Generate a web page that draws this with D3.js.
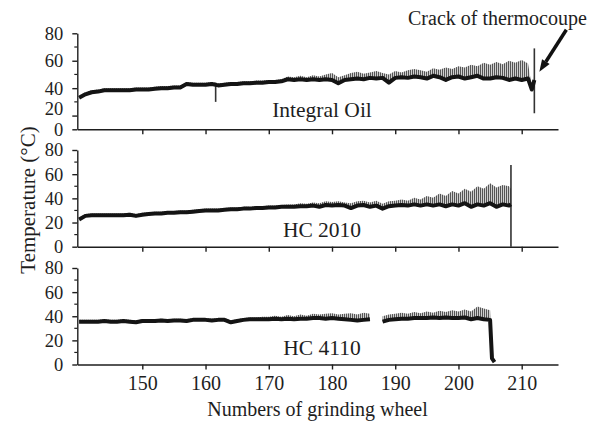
<!DOCTYPE html>
<html>
<head>
<meta charset="utf-8">
<script src="https://cdn.jsdelivr.net/npm/d3@7"></script>
<style>
  body { margin: 0; background: #fff; }
  svg { display: block; }
</style>
</head>
<body>
<svg id="chart"></svg>
<script>
// wheel numbers, one reading per wheel
const wheels = [140, 141, 142, 143, 144, 145, 146, 147, 148, 149,
                150, 151, 152, 153, 154, 155, 156, 157, 158, 159,
                160, 161, 162, 163, 164, 165, 166, 167, 168, 169,
                170, 171, 172, 173, 174, 175, 176, 177, 178, 179,
                180, 181, 182, 183, 184, 185, 186, 187, 188, 189,
                190, 191, 192, 193, 194, 195, 196, 197, 198, 199,
                200, 201, 202, 203, 204, 205, 206, 207, 208, 209,
                210, 211, 212];

const xTicks = [150, 160, 170, 180, 190, 200, 210];
const yTickLabels = ['0', '20', '40', '60', '80'];

// Integral Oil: main trace and the top of the spikes
const oilTemp = [33, 35.5, 37, 37.5, 38.5, 38.5, 38.5, 38.5, 38.5, 39,
                 39, 39, 39.5, 40, 40, 40.5, 40.5, 43, 42.5, 42.5,
                 42.5, 43, 42, 42.5, 43, 43, 43.5, 43.5, 44, 44,
                 44.5, 44.5, 45, 46.5, 46, 46.5, 46, 46.5, 46, 46.5,
                 46, 43.5, 46, 46.5, 47, 46.5, 47.5, 47, 47.5, 44,
                 47.5, 48, 47.5, 48.5, 48, 47, 49, 48, 46, 48,
                 48.5, 47, 48, 49, 47, 47, 48, 47.5, 46, 47,
                 46, 47];
const oilPeak = [34.5, 37, 38.5, 39, 40, 40, 40, 40, 40, 40.5,
                 40.5, 40.5, 41, 41.5, 41.5, 42, 42, 44.5, 44, 44,
                 44, 44.5, 43.5, 44, 44.5, 44.5, 45, 45, 45.5, 45.5,
                 46, 46, 46.5, 48.5, 48, 49, 48, 49.5, 48.5, 50,
                 51, 48, 49.5, 51, 52, 50.5, 51.5, 52.5, 51, 50,
                 52.5, 51.5, 53, 54, 53, 52, 54.5, 53.5, 55, 54,
                 56, 55, 57, 56, 58.5, 57, 59, 57.5, 60, 58.5,
                 60.5, 58];
const oilTail = [[211.6, 39, 41], [212.0, 46, 50]];
const oilSpikes = [[161.6, 30, 44], [212.0, 21.7, 69]];

// HC 2010
const hc2010Temp = [22.5, 25.5, 26, 26, 26, 26, 26, 26, 26.5, 25.5,
                    26.5, 27, 27.5, 27.5, 28, 28, 28.5, 28.5, 29, 29.5,
                    30, 30, 30, 30.5, 31, 31, 31.5, 31.5, 32, 32,
                    32.5, 32.5, 33, 33, 33, 33.5, 33.5, 34, 33, 34.5,
                    34, 34.5, 34, 32, 34, 34.5, 33, 34, 31.5, 33.5,
                    34, 34.5, 34, 35, 34, 35, 34, 35, 33.5, 35,
                    34, 36, 33, 35, 34, 36, 33, 35, 34];
const hc2010Peak = [24, 27, 27.5, 27.5, 27.5, 27.5, 27.5, 27.5, 28, 27,
                    28, 28.5, 29, 29, 29.5, 29.5, 30, 30, 30.5, 31,
                    31.5, 31.5, 31.5, 32, 32.5, 32.5, 33, 33, 33.5, 33.5,
                    34, 34, 34.5, 35, 35, 36, 35.5, 36.5, 36, 37.5,
                    37, 37.5, 36.5, 36, 37.5, 38, 36.5, 38, 35.5, 37.5,
                    38, 39, 38, 40.5, 39, 42, 40.5, 44, 42, 46,
                    44, 48, 45.5, 50, 48, 52.5, 49, 51, 50];
const hc2010Tail = [[208.3, 35, 48]];
const hc2010Spikes = [[208.3, 0, 67.5]];

// HC 4110 (null = no reading)
const hc4110Temp = [35.5, 35.5, 35.5, 35.5, 36, 35.5, 35.5, 36, 35.5, 35,
                    36, 36, 36, 36.5, 36, 36.5, 36.5, 36, 37, 37,
                    37, 36.5, 37, 37, 35, 36, 37, 37.5, 37.5, 37.5,
                    37.5, 38, 37.5, 38, 37.5, 38, 38, 38.5, 38.5, 38,
                    38.5, 38, 37.5, 37, 36.5, 37, 37.5, null, 35.5, 37,
                    37.5, 38, 38, 38.5, 38.5, 38.5, 39, 38.5, 39, 38.5,
                    38.5, 39, 37.5, 38.5, 37.5, 37];
const hc4110Peak = [37, 37, 37, 37, 37.5, 37, 37, 37.5, 37, 36.5,
                    37.5, 37.5, 37.5, 38, 37.5, 38, 38, 37.5, 38.5, 38.5,
                    38.5, 38, 38.5, 38.5, 36.5, 37.5, 38.5, 39, 39, 39.5,
                    39.5, 40.5, 39.5, 41, 40, 41.5, 40.5, 42, 41.5, 42,
                    42.5, 41.5, 42, 42.5, 41.5, 43, 42, null, 40, 41.5,
                    42, 43, 42, 43.5, 42.5, 44, 43, 44.5, 43.5, 45,
                    44, 45.5, 44, 48, 46.5, 45];
const hc4110Tail = [[205.3, 5, 5], [205.7, 2, 2]];
const hc4110Spikes = [];

const font = "'Liberation Serif', 'Times New Roman', serif";
const ink = '#1e1e1e';

class TempPanel {

    constructor( config, series ) {
        this.config = {
            parent: config.parent,
            left: 77.3,
            right: 558,
            top: config.top,
            bottom: config.bottom,
            yDomain: config.yDomain,
            yTicks: config.yTicks,
            yMinor: config.yMinor,
            labelShift: config.labelShift || [0, 0, 0, 0, 0],
            title: config.title,
            titleY: config.titleY,
            showXLabels: config.showXLabels || false
        };
        this.series = series;
        this.init();
    }

    init() {
        let self = this;

        self.chart = self.config.parent.append('g');

        self.xscale = d3.scaleLinear()
            .domain([139.72, 215.74])
            .range([self.config.left, self.config.right]);

        self.yscale = d3.scaleLinear()
            .domain(self.config.yDomain)
            .range([self.config.bottom, self.config.top]);

        self.area = d3.area()
            .defined(d => d.t !== null)
            .x(d => self.xscale(d.w))
            .y0(d => self.yscale(d.t))
            .y1(d => self.yscale(d.p));

        self.line = d3.line()
            .defined(d => d.t !== null)
            .x(d => self.xscale(d.w))
            .y(d => self.yscale(d.t));

        self.render();
    }

    render() {
        let self = this;
        const s = self.series;

        const pts = s.temp.map((t, i) => ({ w: wheels[i], t: t, p: s.peak[i] }))
            .concat(s.tail.map(d => ({ w: d[0], t: d[1], p: d[2] })));

        // spiky band above the trace
        self.chart.append('path')
            .attr('d', self.area(pts))
            .attr('fill', 'url(#spikes)')
            .attr('stroke', 'none');

        self.chart.selectAll('.spike')
            .data(s.spikes)
            .enter()
            .append('line')
            .attr('class', 'spike')
            .attr('x1', d => self.xscale(d[0]))
            .attr('x2', d => self.xscale(d[0]))
            .attr('y1', d => self.yscale(d[1]))
            .attr('y2', d => self.yscale(d[2]))
            .attr('stroke', '#333')
            .attr('stroke-width', 1.6);

        self.chart.append('path')
            .attr('d', self.line(pts))
            .attr('fill', 'none')
            .attr('stroke', '#141414')
            .attr('stroke-width', 4)
            .attr('stroke-linejoin', 'round');

        // axes
        const xaxis = d3.axisBottom(self.xscale)
            .tickValues(xTicks)
            .tickSize(5)
            .tickPadding(6)
            .tickSizeOuter(0)
            .tickFormat(self.config.showXLabels ? d3.format('d') : '');

        const xg = self.chart.append('g')
            .attr('transform', `translate(0, ${self.config.bottom})`)
            .call(xaxis);

        const yaxis = d3.axisLeft(self.yscale)
            .tickValues(self.config.yTicks)
            .tickSize(5)
            .tickPadding(9)
            .tickSizeOuter(0)
            .tickFormat((d, i) => yTickLabels[i]);

        const yg = self.chart.append('g')
            .attr('transform', `translate(${self.config.left}, 0)`)
            .call(yaxis);

        yg.selectAll('.tick text')
            .attr('transform', (d, i) => `translate(0, ${self.config.labelShift[i]})`);

        self.chart.selectAll('.minor')
            .data(self.config.yMinor)
            .enter()
            .append('line')
            .attr('class', 'minor')
            .attr('x1', self.config.left - 3)
            .attr('x2', self.config.left)
            .attr('y1', d => self.yscale(d))
            .attr('y2', d => self.yscale(d))
            .attr('stroke', ink)
            .attr('stroke-width', 1.2);

        [xg, yg].forEach(g => {
            g.attr('font-family', font).attr('font-size', 20);
            g.selectAll('path, line').attr('stroke', ink).attr('stroke-width', 1.4);
            g.selectAll('text').attr('fill', ink);
        });
        // y labels sit tightly stacked, keep them a touch smaller
        yg.attr('font-size', 18.5);

        self.chart.append('text')
            .attr('x', 322)
            .attr('y', self.config.titleY)
            .attr('text-anchor', 'middle')
            .attr('font-family', font)
            .attr('font-size', 21.5)
            .attr('fill', ink)
            .text(self.config.title);
    }
}

const svg = d3.select('#chart')
    .attr('width', 606)
    .attr('height', 422)
    .style('background', '#fff');

const pattern = svg.append('defs')
    .append('pattern')
    .attr('id', 'spikes')
    .attr('width', 2)
    .attr('height', 4)
    .attr('patternUnits', 'userSpaceOnUse');
pattern.append('rect')
    .attr('width', 2)
    .attr('height', 4)
    .attr('fill', '#cfcfcf');
pattern.append('rect')
    .attr('width', 1)
    .attr('height', 4)
    .attr('fill', '#555');

const oil = new TempPanel({
    parent: svg, top: 33.3, bottom: 129.3, yDomain: [10, 80],
    yTicks: [10, 20, 40, 60, 80], yMinor: [30, 50, 70],
    labelShift: [0, -7, 0, 0, 0],
    title: 'Integral Oil', titleY: 117
}, { temp: oilTemp, peak: oilPeak, tail: oilTail, spikes: oilSpikes });

new TempPanel({
    parent: svg, top: 150, bottom: 246.7, yDomain: [0, 80],
    yTicks: [0, 20, 40, 60, 80], yMinor: [10, 30, 50, 70],
    title: 'HC 2010', titleY: 237
}, { temp: hc2010Temp, peak: hc2010Peak, tail: hc2010Tail, spikes: hc2010Spikes });

new TempPanel({
    parent: svg, top: 268, bottom: 364.5, yDomain: [0, 80],
    yTicks: [0, 20, 40, 60, 80], yMinor: [10, 30, 50, 70],
    title: 'HC 4110', titleY: 355, showXLabels: true
}, { temp: hc4110Temp, peak: hc4110Peak, tail: hc4110Tail, spikes: hc4110Spikes });

// shared labels
svg.append('text')
    .attr('transform', 'translate(35, 200) rotate(-90)')
    .attr('text-anchor', 'middle')
    .attr('font-family', font)
    .attr('font-size', 21)
    .attr('fill', ink)
    .text('Temperature (°C)');

svg.append('text')
    .attr('x', 317.5)
    .attr('y', 416)
    .attr('text-anchor', 'middle')
    .attr('font-family', font)
    .attr('font-size', 20)
    .attr('fill', ink)
    .text('Numbers of grinding wheel');

// annotation arrow pointing at the broken thermocouple spike
const tipX = oil.xscale(212.0) + 5;
const tipY = oil.yscale(52);
svg.append('line')
    .attr('x1', tipX + 27)
    .attr('y1', tipY - 42)
    .attr('x2', tipX + 6.5)
    .attr('y2', tipY - 10)
    .attr('stroke', '#111')
    .attr('stroke-width', 3.5);
svg.append('path')
    .attr('d', `M${tipX},${tipY} L${tipX + 2.7},${tipY - 12.5} L${tipX + 10.3},${tipY - 7.7} Z`)
    .attr('fill', '#111');

svg.append('text')
    .attr('x', 408)
    .attr('y', 25)
    .attr('font-family', font)
    .attr('font-size', 20)
    .attr('fill', ink)
    .text('Crack of thermocoupe');
</script>
</body>
</html>
